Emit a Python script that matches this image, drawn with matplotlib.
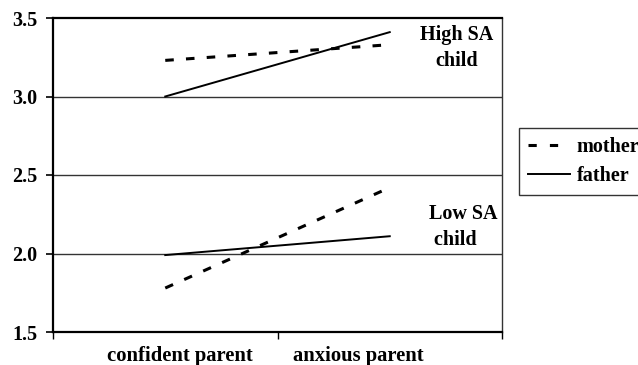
import matplotlib
matplotlib.use("Agg")
import matplotlib.pyplot as plt
from matplotlib.lines import Line2D

categories = ["confident parent", "anxious parent"]
mother_high = [3.23, 3.33]
father_high = [3.00, 3.41]
mother_low = [1.78, 2.42]
father_low = [1.99, 2.11]
yticks = [1.5, 2.0, 2.5, 3.0, 3.5]

plt.rcParams['font.family'] = ['Liberation Serif', 'DejaVu Serif']
plt.rcParams['font.weight'] = 'bold'
FS = 14.5

fig = plt.figure(figsize=(6.38, 3.65), dpi=100)
ax = fig.add_axes([53/638, 1-332/365, (502-53)/638, (332-18)/365])

x = [0.5, 1.5]
dash = (0, (2.8, 4.0))
ax.plot(x, mother_high, color='black', lw=2.2, linestyle=dash)
ax.plot(x, father_high, color='black', lw=1.4)
ax.plot(x, mother_low, color='black', lw=2.2, linestyle=dash)
ax.plot(x, father_low, color='black', lw=1.4)

ax.set_xlim(0, 2)
ax.set_ylim(1.5, 3.5)
ax.set_yticks(yticks)
ax.set_yticklabels([f"{v:.1f}" for v in yticks], fontsize=FS, fontweight='bold')
for v in yticks[1:-1]:
    ax.axhline(v, color='#333333', lw=1.0, zorder=0)

ax.set_xticks([0, 1, 2])
ax.set_xticklabels([])
label_pos = [0.566, 1.358]
ax.set_xticks(label_pos, minor=True)
ax.set_xticklabels(categories, minor=True, fontsize=14.9, fontweight='bold')
ax.tick_params(axis='x', which='minor', length=0, pad=10)
ax.tick_params(axis='x', which='major', length=5, width=1.0, direction='out')
ax.tick_params(axis='y', length=5, width=1.2, direction='out', pad=6)

ax.spines['left'].set_linewidth(1.6)
ax.spines['bottom'].set_linewidth(1.6)
ax.spines['top'].set_linewidth(1.6)
ax.spines['right'].set_linewidth(1.0)
ax.spines['right'].set_color('#333333')

ax.text(1.80, 3.306, "High SA\nchild", ha='center', va='center', fontsize=FS,
        fontweight='bold', linespacing=1.4)
ax.text(1.675, 2.17, "Low SA\n child", ha='left', va='center', fontsize=FS,
        fontweight='bold', linespacing=1.4)

handles = [Line2D([0], [0], color='black', lw=2.2, linestyle=(0, (2.7, 4.3))),
           Line2D([0], [0], color='black', lw=1.4)]
leg = fig.legend(handles, ["mother", "father"], loc='upper left',
                 bbox_to_anchor=(519/638, 1-128/365),
                 frameon=True, fancybox=False, edgecolor='black',
                 handlelength=2.1, handletextpad=0.3, borderpad=0.45,
                 borderaxespad=0, labelspacing=0.45,
                 prop={'weight': 'bold', 'size': FS})
leg.get_frame().set_linewidth(1.0)

fig.savefig("out.png", dpi=100)
